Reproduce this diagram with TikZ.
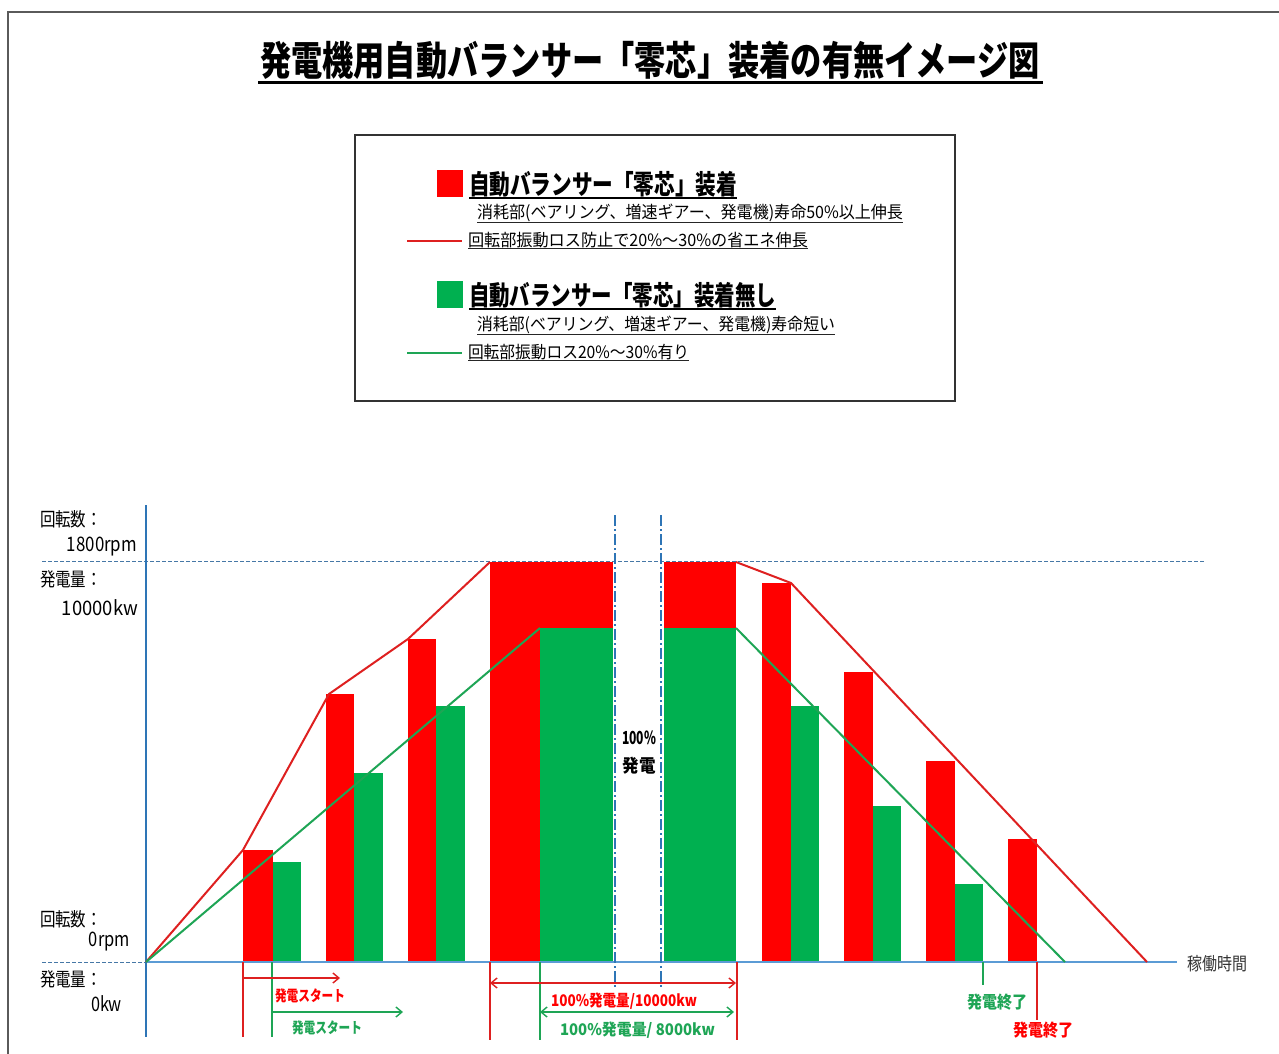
\documentclass[tikz,border=0pt]{standalone}
\usepackage{fontspec}
\usepackage{graphicx}
\usetikzlibrary{arrows.meta}
\newfontfamily\jp{Noto Sans CJK JP}
\definecolor{barred}{RGB}{255,0,0}
\definecolor{bargreen}{RGB}{0,176,80}
\definecolor{linered}{RGB}{222,32,32}
\definecolor{linegreen}{RGB}{30,165,85}
\definecolor{axisblue}{RGB}{46,117,182}
\definecolor{axislight}{RGB}{91,155,213}
\definecolor{frameg}{RGB}{90,90,90}
\newcommand\fw[3]{\resizebox{#1pt}{\height}{\fontsize{#2}{#2}\selectfont\jp #3}}
\tikzset{
  lbl/.style={inner sep=0pt, outer sep=0pt},
  redbar/.style={fill=barred, draw=none},
  grnbar/.style={fill=bargreen, draw=none},
  redln/.style={draw=linered, line width=2pt, line join=round},
  grnln/.style={draw=linegreen, line width=2pt, line join=round},
  redmark/.style={draw=linered, line width=1.4pt},
  grnmark/.style={draw=linegreen, line width=1.4pt},
  ulthick/.style={draw=black, line width=2.6pt},
  ulthin/.style={draw=black!85, line width=1.1pt},
  ulmid/.style={draw=black, line width=1.8pt},
  dashdotblue/.style={draw=axisblue, line width=1.8pt, dash pattern=on 11pt off 3pt on 2pt off 3pt},
  guide/.style={draw=axisblue!70!gray, line width=1pt, dash pattern=on 4pt off 2pt},
  tipbarb/.style={-{Straight Barb[length=6pt,width=10pt,line width=1.4pt]}},
  tipboth/.style={{Straight Barb[length=6pt,width=10pt,line width=1.4pt]}-{Straight Barb[length=6pt,width=10pt,line width=1.4pt]}}
}
\begin{document}
\begin{tikzpicture}[x=1pt,y=-1pt]
\useasboundingbox (0,0) rectangle (1279,1053);
\fill[white] (0,0) rectangle (1279,1053);
% outer frame
\draw[frameg, line width=2.5pt] (8,12) rectangle (1300,1090);

% title
\node[lbl, anchor=west] (title) at (260,60) {\fw{780}{40}{\bfseries 発電機用自動バランサー「零芯」装着の有無イメージ図}};
\draw[ulthick] ([xshift=-2pt,yshift=-3pt]title.south west) -- ([xshift=3pt,yshift=-3pt]title.south east);

% legend
\draw[black!80, line width=1.5pt] (355,135) rectangle (955,401);
\fill[barred] (437,170) rectangle (463,197);
\node[lbl, anchor=west] (h1) at (469,184) {\fw{268}{27}{\bfseries 自動バランサー「零芯」装着}};
\draw[ulmid] ([yshift=-1pt]h1.south west) -- ([yshift=-1pt]h1.south east);
\node[lbl, anchor=west] (s1) at (477,213) {\fw{426}{17}{消耗部(ベアリング、増速ギアー、発電機)寿命50\%以上伸長}};
\draw[ulthin] ([yshift=-1pt]s1.south west) -- ([yshift=-1pt]s1.south east);
\coordinate (lr1) at (407,241);
\coordinate (lr2) at (462,241);
\draw[redln] (lr1) -- (lr2);
\node[lbl, anchor=west] (t1) at (468,240) {\fw{340}{17}{回転部振動ロス防止で20\%～30\%の省エネ伸長}};
\draw[ulthin] ([yshift=-1pt]t1.south west) -- ([yshift=-1pt]t1.south east);

\fill[bargreen] (437,281) rectangle (463,308);
\node[lbl, anchor=west] (h2) at (469,295) {\fw{307}{27}{\bfseries 自動バランサー「零芯」装着無し}};
\draw[ulmid] ([yshift=-1pt]h2.south west) -- ([yshift=-1pt]h2.south east);
\node[lbl, anchor=west] (s2) at (477,325) {\fw{358}{17}{消耗部(ベアリング、増速ギアー、発電機)寿命短い}};
\draw[ulthin] ([yshift=-1pt]s2.south west) -- ([yshift=-1pt]s2.south east);
\coordinate (lg1) at (407,353);
\coordinate (lg2) at (462,353);
\draw[grnln] (lg1) -- (lg2);
\node[lbl, anchor=west] (t2) at (468,352) {\fw{221}{17}{回転部振動ロス20\%～30\%有り}};
\draw[ulthin] ([yshift=-1pt]t2.south west) -- ([yshift=-1pt]t2.south east);

% axis labels
\node[lbl, anchor=west] (la1) at (40,519) {\fw{62}{19}{回転数：}};
\node[lbl, anchor=east] (la2) at (137,547) {\fw{70}{20}{1800rpm}};
\node[lbl, anchor=west] (la3) at (40,579) {\fw{62}{19}{発電量：}};
\node[lbl, anchor=east] (la4) at (138,608) {\fw{76}{20}{10000kw}};
\node[lbl, anchor=west] (la5) at (40,919) {\fw{62}{19}{回転数：}};
\node[lbl, anchor=east] (la6) at (130,942) {\fw{41}{20}{0rpm}};
\node[lbl, anchor=west] (la7) at (40,979) {\fw{62}{19}{発電量：}};
\node[lbl, anchor=east] (la8) at (122,1004) {\fw{31}{20}{0kw}};
\node[lbl, anchor=west, text=black!80] (tx) at (1187,964) {\fw{60}{18}{稼働時間}};

% guide lines
\coordinate (gt0) at (42,561);
\coordinate (gt1) at (1204,561);
\draw[guide] (gt0) -- (gt1);
\coordinate (gb0) at (42,962);
\coordinate (O) at (146,962);
\coordinate (xe) at (1177,962);
\draw[guide] (gb0) -- (O);

% bars
\fill[redbar] (243,850) rectangle (273,962);
\fill[grnbar] (273,862) rectangle (301,962);
\fill[redbar] (326,694) rectangle (354,962);
\fill[grnbar] (354,773) rectangle (383,962);
\fill[redbar] (408,639) rectangle (436,962);
\fill[grnbar] (436,706) rectangle (465,962);
\fill[redbar] (490,562) rectangle (613,962);
\fill[grnbar] (540,628) rectangle (613,962);
\fill[redbar] (664,562) rectangle (736,628);
\fill[grnbar] (664,628) rectangle (736,962);
\fill[redbar] (762,583) rectangle (791,962);
\fill[grnbar] (791,706) rectangle (819,962);
\fill[redbar] (844,672) rectangle (873,962);
\fill[grnbar] (873,806) rectangle (901,962);
\fill[redbar] (926,761) rectangle (955,962);
\fill[grnbar] (955,884) rectangle (983,962);
\fill[redbar] (1008,839) rectangle (1037,962);

% axes
\coordinate (yt) at (146,505);
\coordinate (yb) at (146,1037);
\draw[axislight, line width=1.6pt] (O) -- (xe);
\draw[axisblue, line width=1.8pt] (yt) -- (yb);

% trend lines
\coordinate (r1) at (243,850);
\coordinate (r2) at (329,694);
\coordinate (r3) at (408,639);
\coordinate (r4) at (490,562);
\coordinate (r5) at (736,562);
\coordinate (r6) at (791,583);
\coordinate (r7) at (1147,962);
\draw[redln] (O) -- (r1) -- (r2) -- (r3) -- (r4);
\draw[redln] (r5) -- (r6) -- (r7);
\coordinate (g1) at (540,628);
\coordinate (g2) at (736,628);
\coordinate (g3) at (1065,962);
\draw[grnln] (O) -- (g1);
\draw[grnln] (g2) -- (g3);

% dash-dot gap lines
\coordinate (d1t) at (615,515);
\coordinate (d1b) at (615,988);
\coordinate (d2t) at (661,515);
\coordinate (d2b) at (661,988);
\draw[dashdotblue] (d1t) -- (d1b);
\draw[dashdotblue] (d2t) -- (d2b);
\node[lbl] (c1) at (639,738) {\fw{34}{18}{\bfseries 100\%}};
\node[lbl] (c2) at (639,766) {\fw{33}{18}{\bfseries 発電}};

% bottom markers
\coordinate (m1a) at (243,962); \coordinate (m1b) at (243,1037);
\coordinate (m2a) at (272,962); \coordinate (m2b) at (272,1037);
\coordinate (m3a) at (490,962); \coordinate (m3b) at (490,1040);
\coordinate (m4a) at (540,962); \coordinate (m4b) at (540,1040);
\coordinate (m5a) at (737,962); \coordinate (m5b) at (737,1040);
\coordinate (m6a) at (983,962); \coordinate (m6b) at (983,985);
\coordinate (m7a) at (1037,962); \coordinate (m7b) at (1037,1020);
\draw[redmark] (m1a) -- (m1b);
\draw[grnmark] (m2a) -- (m2b);
\draw[redmark] (m3a) -- (m3b);
\draw[grnmark] (m4a) -- (m4b);
\draw[redmark, line width=2.4pt] (m5a) -- (m5b);
\draw[grnmark] (m6a) -- (m6b);
\draw[redmark] (m7a) -- (m7b);

\coordinate (a1s) at (243,978); \coordinate (a1e) at (340,978);
\coordinate (a2s) at (272,1012); \coordinate (a2e) at (403,1012);
\coordinate (a3s) at (490,983); \coordinate (a3e) at (736,983);
\coordinate (a4s) at (540,1012); \coordinate (a4e) at (734,1012);
\draw[redmark, tipbarb] (a1s) -- (a1e);
\draw[grnmark, tipbarb] (a2s) -- (a2e);
\draw[redmark, tipboth] (a3s) -- (a3e);
\draw[grnmark, tipboth] (a4s) -- (a4e);

\node[lbl, anchor=west, text=barred] (b1) at (275,996) {\fw{70}{15}{\bfseries 発電スタート}};
\node[lbl, anchor=west, text=linegreen] (b2) at (292,1028) {\fw{70}{15}{\bfseries 発電スタート}};
\node[lbl, anchor=west, text=barred] (b3) at (551,1001) {\fw{146}{16}{\bfseries 100\%発電量/10000kw}};
\node[lbl, anchor=west, text=linegreen] (b4) at (560,1030) {\fw{155}{16}{\bfseries 100\%発電量/ 8000kw}};
\node[lbl, anchor=west, text=linegreen] (b5) at (967,1002) {\fw{60}{17}{\bfseries 発電終了}};
\node[lbl, anchor=west, text=barred] (b6) at (1013,1030) {\fw{60}{17}{\bfseries 発電終了}};
\end{tikzpicture}
\end{document}
